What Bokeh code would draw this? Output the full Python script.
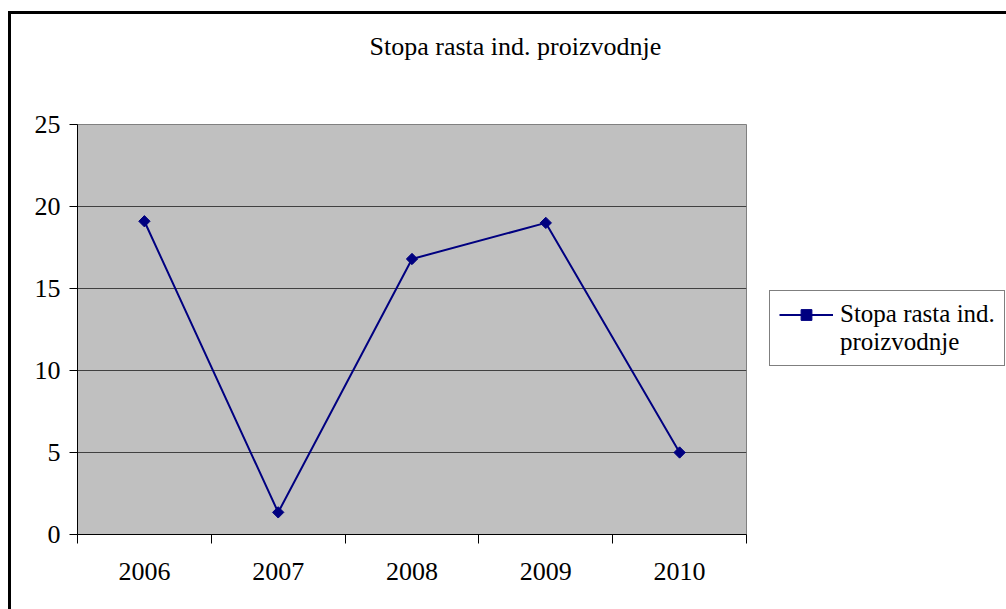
from bokeh.plotting import figure
from bokeh.models import Range1d, FixedTicker, Legend, LegendItem, Title
from bokeh.embed import file_html
from bokeh.resources import INLINE
import math

# ---- data ----
years = ["2006", "2007", "2008", "2009", "2010"]
growth = [19.1, 1.35, 16.8, 19.0, 5.0]
y_ticks = [0, 5, 10, 15, 20, 25]
title_text = "Stopa rasta ind. proizvodnje"
series_label_lines = ["Stopa rasta ind.", "proizvodnje"]

FONT = "Liberation Serif"
xs = list(range(len(years)))

p = figure(frame_width=669, frame_height=410, output_backend="svg", toolbar_location=None,
           x_range=Range1d(-0.5, len(years) - 0.5), y_range=Range1d(0, 25),
           min_border_left=66, min_border_top=0, min_border_right=257,
           min_border_bottom=75)
p.styles = {"border-top": "3px solid black", "border-left": "3px solid black",
            "margin-top": "11px", "margin-left": "8px"}

p.background_fill_color = "#C0C0C0"
p.border_fill_color = "white"
p.outline_line_color = "#808080"
p.outline_line_width = 1

# title
p.title.text = title_text
p.title.align = "left"
p.title.offset = 292
p.title.standoff = 30
p.title.text_font = FONT
p.title.text_font_size = "26px"
p.title.text_font_style = "normal"
p.title.text_color = "black"

# empty space between title and plot area
p.add_layout(Title(text=" ", text_font_size="1px", standoff=46), "above")

# y axis
ya = p.yaxis[0]
ya.ticker = FixedTicker(ticks=y_ticks)
ya.axis_line_color = "black"
ya.major_tick_out = 8
ya.major_tick_in = 0
ya.minor_tick_line_color = None
ya.major_tick_line_color = "black"
ya.major_label_standoff = 9
ya.major_label_text_font = FONT
ya.major_label_text_font_size = "26px"
ya.major_label_text_color = "black"

# x axis
xa = p.xaxis[0]
xa.ticker = FixedTicker(ticks=xs, minor_ticks=[i - 0.5 for i in range(len(years) + 1)])
xa.major_label_overrides = {i: y for i, y in zip(xs, years)}
xa.axis_line_color = "black"
xa.major_tick_out = 0
xa.major_tick_in = 0
xa.minor_tick_out = 9
xa.minor_tick_in = 0
xa.minor_tick_line_color = "black"
xa.major_label_standoff = 19
xa.major_label_text_font = FONT
xa.major_label_text_font_size = "26px"
xa.major_label_text_color = "black"

p.xgrid.grid_line_color = None
p.ygrid.grid_line_color = "#404040"
p.ygrid.grid_line_width = 1

line = p.line(xs, growth, line_color="#000080", line_width=2)
pts = p.scatter(xs, growth, marker="square", angle=math.pi / 4, size=8,
                fill_color="#000080", line_color="#000080")
blank = p.line([], [], line_alpha=0)

legend = Legend(items=[LegendItem(label=series_label_lines[0], renderers=[line, pts]),
                       LegendItem(label=series_label_lines[1], renderers=[blank])],
                location=(23, 168), margin=0, padding=9, spacing=0,
                glyph_width=54, glyph_height=27, label_height=27, label_standoff=7,
                border_line_color="black", border_line_width=1,
                label_text_font=FONT, label_text_font_size="25px",
                label_text_color="black",
                background_fill_color="white")
p.add_layout(legend, "right")

open("out.html", "w").write(file_html(p, INLINE))
